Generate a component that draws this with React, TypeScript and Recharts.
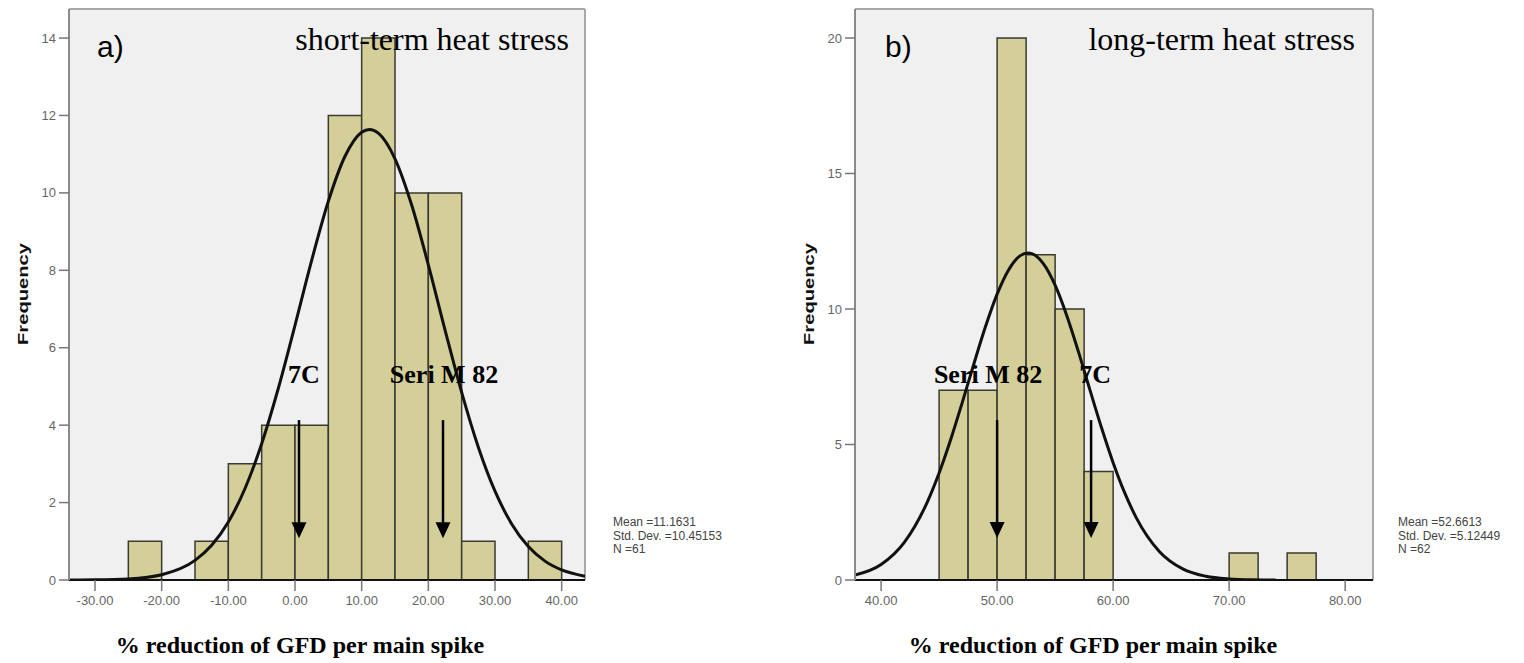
import { CartesianGrid, ComposedChart, Line, ReferenceArea, ReferenceDot, ReferenceLine, XAxis, YAxis } from "recharts";

// a) short-term heat stress
const shortBinStart = [-25, -15, -10, -5, 0, 5, 10, 15, 20, 25, 35];
const shortCounts = [1, 1, 3, 4, 4, 12, 14, 10, 10, 1, 1];
const shortBinWidth = 5;
const shortCurveX = [-33.9, -30, -25, -20, -15, -12.5, -10, -7.5, -5, -2.5, 0, 2.5, 5, 7.5, 10, 11.16, 12.5, 15, 17.5, 20, 22.5, 25, 27.5, 30, 32.5, 35, 37.5, 40, 43.5];
const shortCurveY = [0.001, 0.005, 0.029, 0.137, 0.507, 0.897, 1.498, 2.364, 3.521, 4.953, 6.58, 8.256, 9.782, 10.946, 11.568, 11.64, 11.545, 10.881, 9.686, 8.142, 6.464, 4.846, 3.431, 2.294, 1.449, 0.864, 0.487, 0.259, 0.097];
const shortTicksX = [-30, -20, -10, 0, 10, 20, 30, 40];
const shortTicksY = [0, 2, 4, 6, 8, 10, 12, 14];
const shortMarks = [
  { name: "7C", x: 0.6, labelX: 1.35 },
  { name: "Seri M 82", x: 22.2, labelX: 22.35 },
];
const shortStats = ["Mean =11.1631", "Std. Dev. =10.45153", "N =61"];

// b) long-term heat stress
const longBinStart = [45, 47.5, 50, 52.5, 55, 57.5, 70, 75];
const longCounts = [7, 7, 20, 12, 10, 4, 1, 1];
const longBinWidth = 2.5;
const longCurveX = [37.75, 40, 42, 44, 45, 46, 47, 48, 49, 50, 51, 52, 52.66, 53, 54, 55, 56, 57, 58, 59, 60, 61, 62, 64, 66, 68, 70, 72, 74];
const longCurveY = [0.18, 0.57, 1.387, 2.893, 3.948, 5.185, 6.556, 7.981, 9.351, 10.548, 11.452, 11.97, 12.07, 12.044, 11.665, 10.877, 9.761, 8.435, 7.014, 5.616, 4.329, 3.212, 2.294, 1.043, 0.408, 0.137, 0.039, 0.008, 0.001];
const longTicksX = [40, 50, 60, 70, 80];
const longTicksY = [0, 5, 10, 15, 20];
const longMarks = [
  { name: "Seri M 82", x: 50, labelX: 49.22 },
  { name: "7C", x: 58.1, labelX: 58.44 },
];
const longStats = ["Mean =52.6613", "Std. Dev. =5.12449", "N =62"];

const SANS = "'Liberation Sans', Arial, sans-serif";
const SERIF = "'Liberation Serif', 'Times New Roman', serif";
const FRAME = "#a8a8a8";
const BAR_FILL = "#d4cf98";

type Mark = { name: string; x: number; labelX: number };

type PanelProps = {
  left: number;
  rightMargin: number;
  xDomain: [number, number];
  yMax: number;
  xTicks: number[];
  yTicks: number[];
  binStart: number[];
  counts: number[];
  binWidth: number;
  curveX: number[];
  curveY: number[];
  marks: Mark[];
  arrowTop: number;
  arrowTip: number;
  labelY: number;
};

function Arrow(props: any) {
  const { x1, y1, x2, y2 } = props;
  return (
    <g>
      <line x1={x1} y1={y1} x2={x2} y2={y2 - 12} stroke="#000" strokeWidth={2.5} />
      <polygon points={`${x2 - 7.5},${y2 - 16} ${x2 + 7.5},${y2 - 16} ${x2},${y2}`} fill="#000" />
    </g>
  );
}

function Panel(p: PanelProps) {
  const curve = p.curveX.map((x, i) => ({ x, y: p.curveY[i] }));
  const tick = { fontSize: 13, fill: "#666", fontFamily: SANS };
  return (
    <div style={{ position: "absolute", left: p.left, top: 0 }}>
      <ComposedChart width={600} height={663} margin={{ top: 9, right: p.rightMargin, bottom: 0, left: 0 }}>
        <CartesianGrid fill="#f0f0f0" horizontal={false} vertical={false} />
        <XAxis
          type="number"
          dataKey="x"
          domain={p.xDomain}
          ticks={p.xTicks}
          allowDataOverflow
          interval={0}
          height={83}
          tickFormatter={(v: number) => v.toFixed(2)}
          tick={tick}
          tickSize={11}
          tickMargin={5}
          axisLine={{ stroke: "#111", strokeWidth: 2 }}
          tickLine={{ stroke: "#777", strokeWidth: 1.5 }}
        />
        <YAxis
          type="number"
          domain={[0, p.yMax]}
          ticks={p.yTicks}
          allowDataOverflow
          interval={0}
          width={69}
          tick={tick}
          tickSize={10}
          tickMargin={3}
          axisLine={{ stroke: "#8a8a8a", strokeWidth: 2 }}
          tickLine={{ stroke: "#777", strokeWidth: 1.5 }}
        />
        {p.binStart.map((b, i) => (
          <ReferenceArea
            key={i}
            x1={b}
            x2={b + p.binWidth}
            y1={0}
            y2={p.counts[i]}
            fill={BAR_FILL}
            fillOpacity={1}
            stroke="#3a3a30"
            strokeWidth={1.5}
          />
        ))}
        <ReferenceLine y={p.yMax} stroke={FRAME} strokeWidth={2} />
        <ReferenceLine x={p.xDomain[1]} stroke={FRAME} strokeWidth={2} />
        <Line
          data={curve}
          dataKey="y"
          type="monotone"
          stroke="#111"
          strokeWidth={3}
          dot={false}
          activeDot={false}
          isAnimationActive={false}
        />
        {p.marks.map((m) => (
          <ReferenceLine
            key={"a" + m.name}
            segment={[{ x: m.x, y: p.arrowTop }, { x: m.x, y: p.arrowTip }]}
            shape={Arrow}
          />
        ))}
        {p.marks.map((m) => (
          <ReferenceDot
            key={"l" + m.name}
            x={m.labelX}
            y={p.labelY}
            r={0}
            stroke="none"
            fill="none"
            label={{
              value: m.name,
              position: "center",
              fill: "#000",
              fontSize: 26,
              fontWeight: 700,
              fontFamily: SERIF,
            }}
          />
        ))}
      </ComposedChart>
    </div>
  );
}

function Stats({ x, lines }: { x: number; lines: string[] }) {
  return (
    <>
      {lines.map((s, i) => (
        <text key={s} x={x} y={526 + i * 13.5} fontSize={12} fill="#444" fontFamily={SANS}>
          {s}
        </text>
      ))}
    </>
  );
}

export default function App() {
  return (
    <div style={{ position: "fixed", left: 0, top: 0, width: 1524, height: 663, background: "#fff", overflow: "hidden" }}>
      <Panel
        left={0}
        rightMargin={15}
        xDomain={[-33.9, 43.5]}
        yMax={14.75}
        xTicks={shortTicksX}
        yTicks={shortTicksY}
        binStart={shortBinStart}
        counts={shortCounts}
        binWidth={shortBinWidth}
        curveX={shortCurveX}
        curveY={shortCurveY}
        marks={shortMarks}
        arrowTop={4.13}
        arrowTip={1.08}
        labelY={5.32}
      />
      <Panel
        left={786}
        rightMargin={13}
        xDomain={[37.75, 82.4]}
        yMax={21.07}
        xTicks={longTicksX}
        yTicks={longTicksY}
        binStart={longBinStart}
        counts={longCounts}
        binWidth={longBinWidth}
        curveX={longCurveX}
        curveY={longCurveY}
        marks={longMarks}
        arrowTop={5.9}
        arrowTip={1.55}
        labelY={7.6}
      />
      <svg width={1524} height={663} style={{ position: "absolute", left: 0, top: 0, pointerEvents: "none" }}>
        <text x={97} y={57} fontSize={30} fontFamily={SANS} fill="#000">a)</text>
        <text x={569} y={50} fontSize={32} fontFamily={SERIF} textAnchor="end" fill="#000">short-term heat stress</text>
        <text x={885} y={57} fontSize={30} fontFamily={SANS} fill="#000">b)</text>
        <text x={1355} y={50} fontSize={32} fontFamily={SERIF} textAnchor="end" fill="#000">long-term heat stress</text>

        <text x={22} y={294} transform="rotate(-90 22 294)" textAnchor="middle" dominantBaseline="central"
          fontSize={15} fontWeight={700} fontFamily={SANS} fill="#111" textLength={102} lengthAdjust="spacingAndGlyphs">
          Frequency
        </text>
        <text x={808} y={294} transform="rotate(-90 808 294)" textAnchor="middle" dominantBaseline="central"
          fontSize={15} fontWeight={700} fontFamily={SANS} fill="#111" textLength={102} lengthAdjust="spacingAndGlyphs">
          Frequency
        </text>

        <text x={300} y={653} textAnchor="middle" fontSize={24} fontWeight={700} fontFamily={SERIF} fill="#000">
          % reduction of GFD per main spike
        </text>
        <text x={1093} y={653} textAnchor="middle" fontSize={24} fontWeight={700} fontFamily={SERIF} fill="#000">
          % reduction of GFD per main spike
        </text>

        <Stats x={613} lines={shortStats} />
        <Stats x={1398} lines={longStats} />
      </svg>
    </div>
  );
}
